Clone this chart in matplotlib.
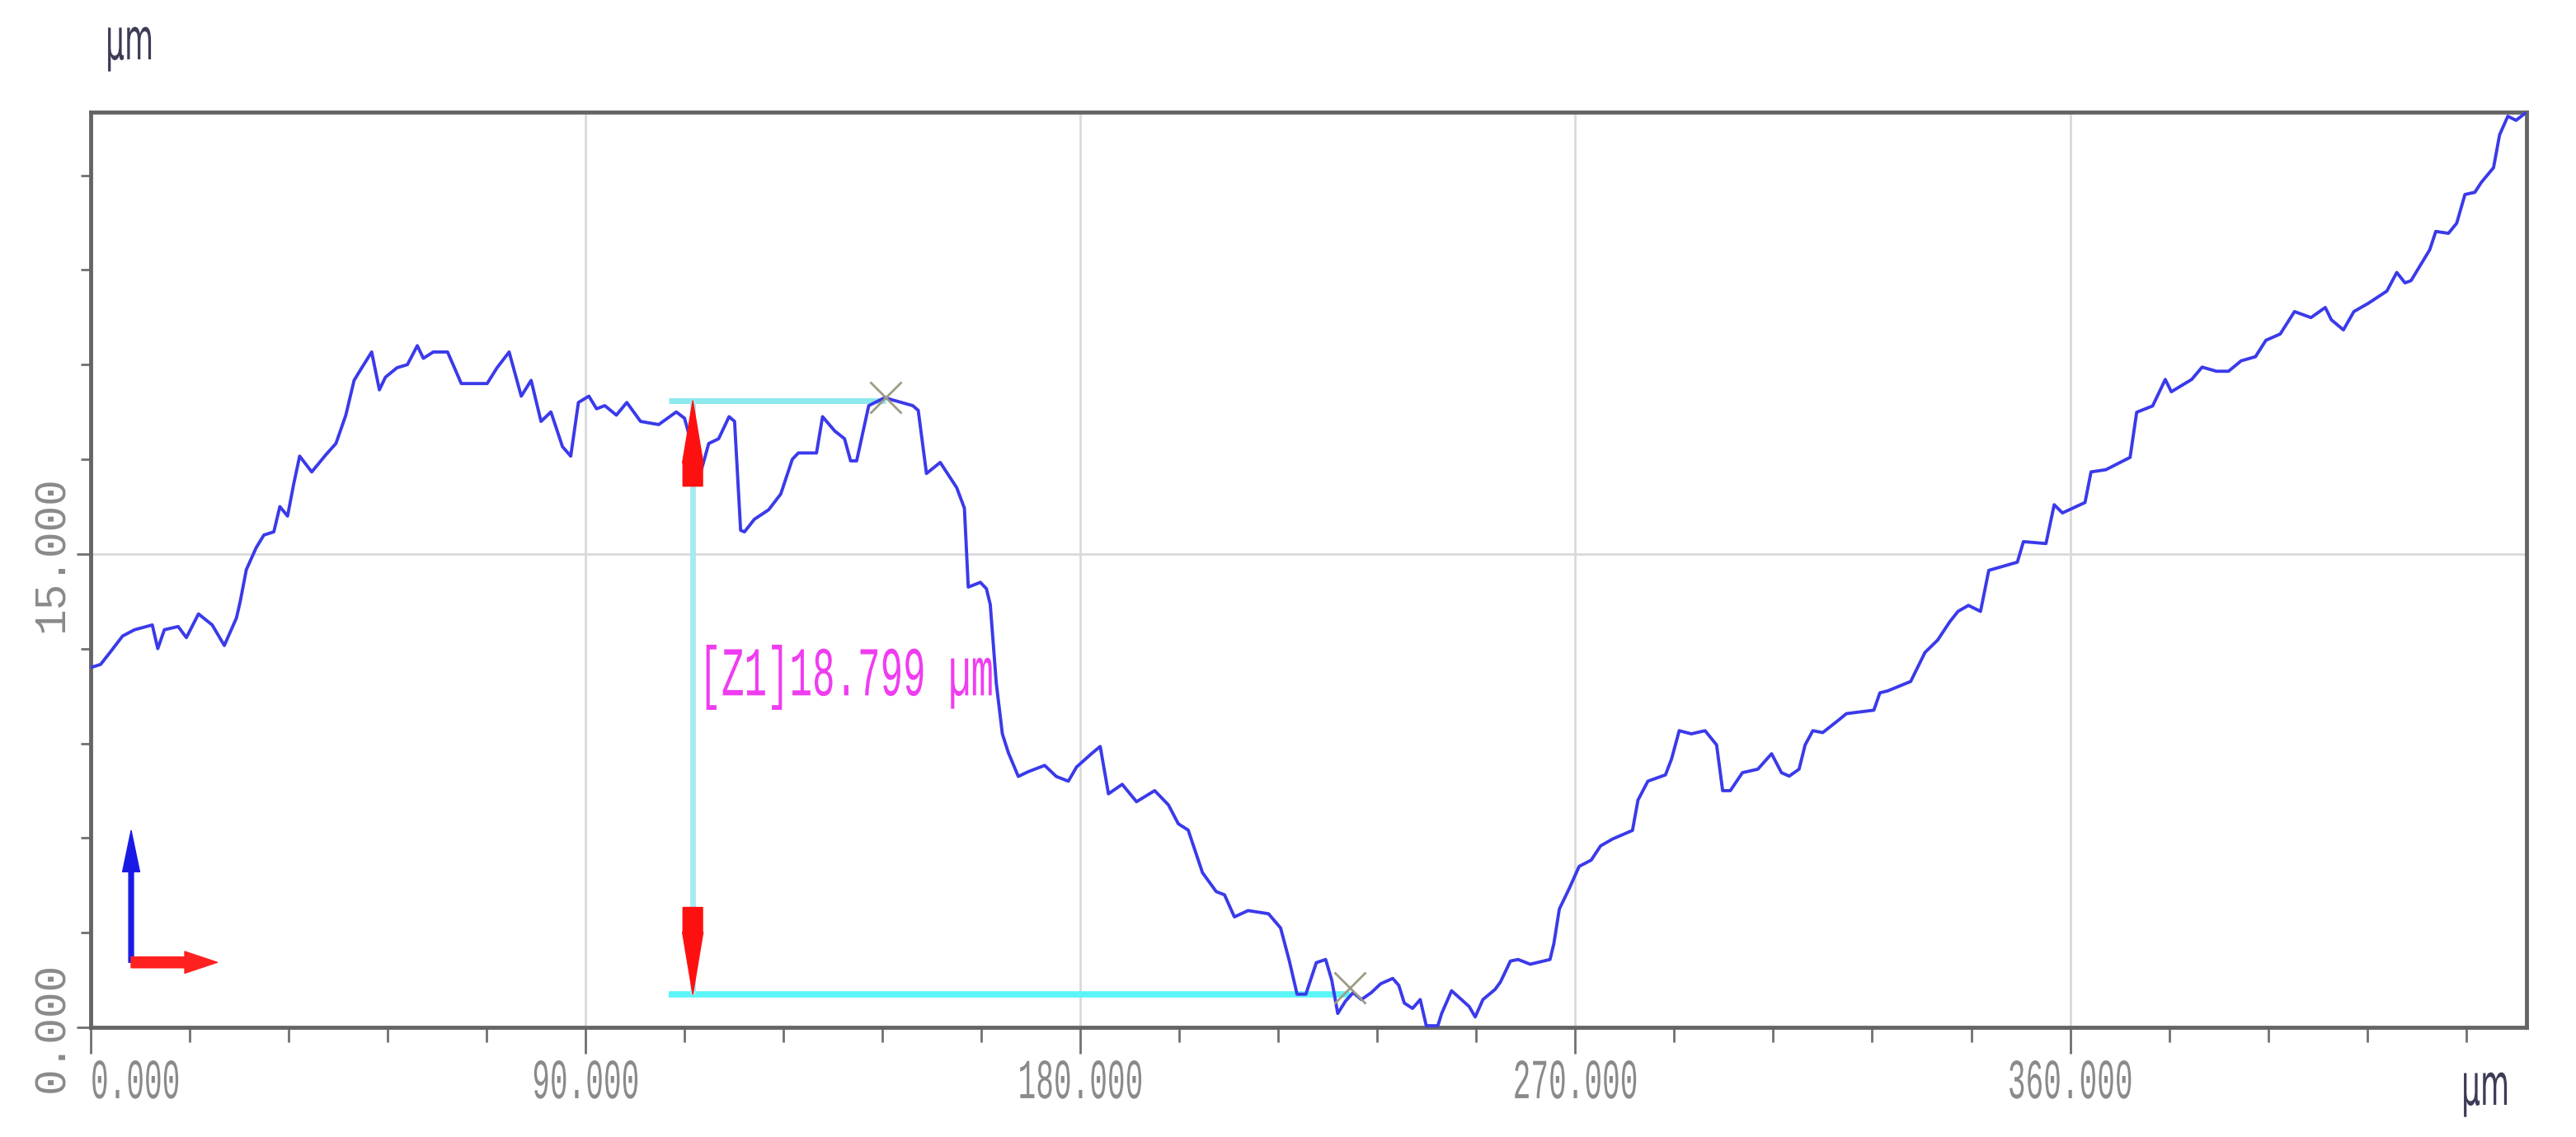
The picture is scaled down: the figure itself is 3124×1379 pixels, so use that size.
import matplotlib
matplotlib.use('Agg')
import matplotlib.pyplot as plt
from matplotlib.patheffects import AbstractPathEffect
from matplotlib.transforms import Affine2D
from matplotlib.ticker import MultipleLocator

# surface profile (x in um, height in um)
profile_x = [0, 1.8, 3.6, 5.8, 8.0, 11.2, 12.2, 13.4, 15.9, 17.4, 19.6, 22.1, 24.3, 26.5, 27.2,
             28.3, 30.1, 31.5, 33.3, 34.4, 35.8, 36.9, 38.0, 40.2, 42.8, 44.6, 46.4, 47.9, 49.3,
             51.1, 52.5, 53.6, 55.7, 57.6, 59.4, 60.5, 62.3, 64.9, 67.4, 72.1, 73.9, 76.1, 78.3,
             80.1, 81.9, 83.7, 85.8, 87.3, 88.7, 90.6, 92.0, 93.5, 95.6, 97.5, 100.0, 103.3,
             106.5, 108.0, 110.8, 112.4, 114.2, 116.1, 117.1, 118.2, 118.9, 120.7, 123.3, 125.5,
             127.6, 128.7, 132.0, 133.1, 135.3, 137.1, 138.2, 139.3, 141.5, 144.4, 149.5, 150.5,
             152.0, 154.5, 157.5, 158.9, 159.6, 161.8, 162.9, 163.6, 164.7, 165.8, 166.9, 168.7,
             170.5, 173.5, 175.6, 177.8, 179.3, 182.2, 183.6, 185.1, 187.6, 190.2, 193.5, 196.0,
             197.8, 199.6, 202.2, 204.7, 206.2, 208.0, 210.5, 214.2, 216.4, 218.0, 219.4, 221.0,
             222.9, 224.6, 225.7, 226.8, 228.2, 229.6, 231.1, 232.9, 234.6, 236.8, 237.9, 238.9,
             240.4, 241.8, 242.9, 245.0, 245.7, 247.5, 248.9, 250.7, 251.8, 253.2, 255.4, 256.4,
             258.2, 259.6, 261.8, 265.4, 266.1, 267.1, 268.9, 270.7, 272.9, 274.6, 276.8, 280.4,
             281.4, 283.2, 286.4, 287.5, 288.9, 291.1, 293.6, 295.7, 296.8, 298.2, 300.4, 303.2,
             305.7, 307.5, 308.9, 310.7, 311.8, 313.2, 315.0, 318.2, 319.3, 324.3, 325.4, 326.8,
             331.0, 333.6, 335.9, 338.1, 339.6, 341.5, 343.7, 345.2, 347.8, 350.4, 351.5, 355.6,
             357.1, 358.6, 362.7, 363.8, 366.5, 370.9, 372.1, 375.0, 377.3, 378.4, 382.1, 384.0,
             386.6, 388.8, 391.1, 393.7, 395.6, 398.2, 400.8, 403.8, 406.4, 407.5, 409.7, 411.6,
             414.2, 417.6, 419.4, 420.9, 422.0, 425.4, 426.5, 428.8, 430.3, 431.8, 433.6, 434.8,
             437.0, 438.1, 439.6, 441.1, 443.0]
profile_z = [11.4, 11.5, 11.9, 12.4, 12.6, 12.75, 12.0, 12.6, 12.7, 12.35, 13.1, 12.75, 12.1, 12.97, 13.5,
             14.5, 15.2, 15.6, 15.7, 16.5, 16.2, 17.2, 18.1, 17.6, 18.15, 18.5, 19.4, 20.5, 20.9,
             21.4, 20.2, 20.6, 20.9, 21.0, 21.6, 21.2, 21.4, 21.4, 20.4, 20.4, 20.9, 21.4, 20.0,
             20.5, 19.2, 19.5, 18.4, 18.1, 19.8, 20.0, 19.6, 19.7, 19.4, 19.8, 19.2, 19.1,
             19.5, 19.3, 17.5, 18.5, 18.65, 19.35, 19.2, 15.75, 15.7, 16.1, 16.4, 16.9,
             18.0, 18.2, 18.2, 19.35, 18.9, 18.65, 17.95, 17.95, 19.7, 19.95, 19.7, 19.55,
             17.55, 17.9, 17.1, 16.45, 13.95, 14.1, 13.9, 13.4, 10.9, 9.3, 8.7, 7.95,
             8.1, 8.3, 7.95, 7.8, 8.25, 8.7, 8.9, 7.4, 7.7, 7.15, 7.5, 7.05,
             6.45, 6.25, 4.9, 4.3, 4.2, 3.5, 3.7, 3.6, 3.15, 2.1, 1.05, 1.05,
             2.05, 2.15, 1.5, 0.44, 0.83, 1.1, 0.88, 1.1, 1.38, 1.55, 1.33, 0.77,
             0.6, 0.88, 0.05, 0.05, 0.44, 1.16, 0.94, 0.66, 0.33, 0.88, 1.2, 1.44,
             2.1, 2.15, 2.0, 2.15, 2.65, 3.75, 4.4, 5.1, 5.3, 5.75, 5.97, 6.24,
             7.2, 7.8, 8.0, 8.5, 9.4, 9.3, 9.4, 8.95, 7.5, 7.5, 8.07, 8.18,
             8.67, 8.07, 7.96, 8.18, 8.95, 9.4, 9.34, 9.78, 9.94, 10.05, 10.6, 10.66,
             10.96, 11.88, 12.27, 12.85, 13.18, 13.37, 13.18, 14.48, 14.61, 14.74, 15.39, 15.33,
             16.56, 16.3, 16.63, 17.6, 17.67, 18.06, 19.49, 19.69, 20.53, 20.14, 20.53, 20.92,
             20.79, 20.79, 21.12, 21.25, 21.77, 21.97, 22.68, 22.49, 22.81, 22.42, 22.1, 22.68,
             22.94, 23.33, 23.92, 23.59, 23.66, 24.64, 25.22, 25.16, 25.48, 26.39, 26.46, 26.78,
             27.24, 28.28, 28.87, 28.74, 29.0]

# height measurement Z1
z1_low = 1.05
z1_value = 18.799
z1_high = z1_low + z1_value
cursor_x = 109.5
line_start_x = 105.2
upper_mark = (144.5, 19.95)
lower_mark = (229.0, 1.25)

x_ticks = [0, 90, 180, 270, 360]
x_tick_labels = ['0.000', '90.000', '180.000', '270.000', '360.000']
y_ticks = [0, 15]
y_tick_labels = ['0.000', '15.000']

MONO = ['Liberation Mono', 'DejaVu Sans Mono']


class Stretch(AbstractPathEffect):
    # draws text taller than wide, like the squeezed screenshot
    def __init__(self, sy, anchor=0.0):
        super().__init__()
        self.sy = sy
        self.anchor = anchor

    def draw_path(self, renderer, gc, tpath, affine, rgbFace=None):
        t = Affine2D().translate(0, -self.anchor).scale(1, self.sy).translate(0, self.anchor) + affine
        renderer.draw_path(gc, tpath, t, rgbFace)


W, H = 3124, 1379
fig = plt.figure(figsize=(W / 100, H / 100), dpi=100)
ax = fig.add_axes([110 / W, 1 - 1246 / H, (3064 - 110) / W, (1246 - 136) / H])

ax.set_xlim(0, 443)
ax.set_ylim(0, 29.0)

ax.plot(profile_x, profile_z, color='#3a3aea', lw=2.8, zorder=4)

# measurement cursors
ax.hlines(z1_high, line_start_x, upper_mark[0], colors='#8ce9ec', lw=5, zorder=2)
ax.hlines(z1_low, line_start_x, lower_mark[0], colors='#5cf5f7', lw=5.5, zorder=2)
ax.vlines(cursor_x, z1_low, z1_high, colors='#a6ebef', lw=5, zorder=2)
for start, end in [(z1_high - 2.7, z1_high), (z1_low + 2.75, z1_low)]:
    ax.annotate('', xy=(cursor_x, end), xytext=(cursor_x, start),
                arrowprops=dict(arrowstyle='simple,head_length=3.0,head_width=1.0,tail_width=0.95',
                                mutation_scale=18, color='#ff1010', shrinkA=0, shrinkB=0),
                zorder=5)
ax.plot([upper_mark[0], lower_mark[0]], [upper_mark[1], lower_mark[1]], ls='none',
        marker='x', ms=28, mew=2, color='#9c9c84', zorder=6)
ax.text(110.6, 10.52, '[Z1]{:.3f} µm'.format(z1_value), family=MONO, fontsize=33,
        color='#f03cf0', va='baseline', ha='left', zorder=6,
        path_effects=[Stretch(1.85, 0)])

# little axis indicator bottom left
ax.annotate('', xy=(0.0166, 0.215), xytext=(0.0166, 0.071), xycoords='axes fraction',
            arrowprops=dict(arrowstyle='simple,head_length=2.4,head_width=1.0,tail_width=0.28',
                            mutation_scale=15, color='#1a1ae6', shrinkA=0, shrinkB=0))
ax.annotate('', xy=(0.052, 0.071), xytext=(0.0166, 0.071), xycoords='axes fraction',
            arrowprops=dict(arrowstyle='simple,head_length=1.5,head_width=1.0,tail_width=0.5',
                            mutation_scale=19, color='#ff2020', shrinkA=0, shrinkB=0))

# axes / grid
ax.set_xticks(x_ticks)
ax.set_yticks(y_ticks)
ax.xaxis.set_minor_locator(MultipleLocator(18))
ax.yaxis.set_minor_locator(MultipleLocator(3))
ax.grid(True, which='major', color='#d9d9d9', lw=2)
ax.set_axisbelow(True)
ax.tick_params(axis='x', which='major', length=23, width=2, color='#707070', pad=4)
ax.tick_params(axis='x', which='minor', length=13, width=2, color='#707070')
ax.tick_params(axis='y', which='major', length=12, width=2, color='#707070', pad=4)
ax.tick_params(axis='y', which='minor', length=8.5, width=2, color='#707070')
ax.set_xticklabels(x_tick_labels, family=MONO, fontsize=26, color='#8a8a8a')
ax.set_yticklabels(y_tick_labels, family=MONO, fontsize=38, color='#8a8a8a',
                   rotation=90, va='center')
for lab in ax.get_xticklabels():
    lab.set_path_effects([Stretch(1.9, 66)])
ax.get_xticklabels()[0].set_ha('left')
for s in ax.spines.values():
    s.set_color('#656565')
    s.set_linewidth(3.5)

# unit labels
for x, y in [(128, 72), (2985, 1340)]:
    fig.text(x / W, 1 - y / H, 'µm', fontsize=26, color='#3c3c55', family='DejaVu Sans',
             ha='left', va='baseline', path_effects=[Stretch(1.95, 0)])

fig.savefig('out.png', dpi=100, facecolor='white')
